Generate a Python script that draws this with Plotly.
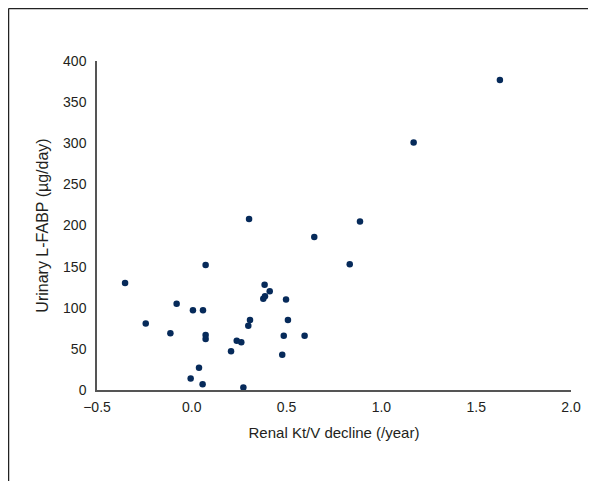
import plotly.graph_objects as go

kt_v_decline = [-0.352, 0.073, -0.243, -0.080, -0.113, 0.006, 0.059, 0.073, 0.073,
                0.038, -0.006, 0.057, 0.272, 0.207, 0.237, 0.261, 0.298, 0.307,
                0.377, 0.386, 0.384, 0.411, 0.497, 0.507, 0.485, 0.477, 0.595,
                0.833, 0.302, 0.646, 0.887, 1.170, 1.625]
l_fabp = [130, 152, 81, 105, 69, 97, 97, 67, 62,
          27, 14, 7, 3, 47, 60, 58, 78, 85,
          111, 114, 128, 120, 110, 85, 66, 43, 66,
          153, 208, 186, 205, 301, 377]

x_ticks = [-0.5, 0.0, 0.5, 1.0, 1.5, 2.0]
y_ticks = [0, 50, 100, 150, 200, 250, 300, 350, 400]

# page is offset by the 8px body margin
W, H = 588, 473
L, R, T, B = 89, 25, 53, 91
pw, ph = W - L - R, H - T - B

def px(x):
    return (x - L) / pw

def py(y):
    return (H - B - y) / ph

font = "Liberation Sans, Arial, sans-serif"

fig = go.Figure(go.Scatter(
    x=kt_v_decline, y=l_fabp, mode="markers",
    marker=dict(color="#062a5a", size=6.5),
    hoverinfo="x+y",
))

fig.update_layout(
    width=W, height=H,
    margin=dict(l=L, r=R, t=T, b=B),
    paper_bgcolor="white", plot_bgcolor="white",
    showlegend=False,
    font=dict(family=font, size=14, color="#231f20"),
    xaxis=dict(range=[-0.5, 2.0], tickvals=x_ticks, tickformat=".1f",
               showgrid=False, zeroline=False, showline=True,
               linecolor="#555555", linewidth=1.5, ticks="",
               ticklabelstandoff=3,
               title=dict(text="Renal Kt/V decline (/year)", standoff=14,
                          font=dict(size=15))),
    yaxis=dict(range=[0, 400], tickvals=y_ticks,
               showgrid=False, zeroline=False, showline=True,
               linecolor="#555555", linewidth=1.5, ticks="",
               ticklabelstandoff=6,
               title=dict(text="Urinary L-FABP (µg/day)", standoff=10,
                          font=dict(size=16))),
    shapes=[
        dict(type="line", xref="paper", yref="paper",
             x0=px(0.5), x1=px(W + 2), y0=py(0.5), y1=py(0.5),
             line=dict(color="#222222", width=1.5)),
        dict(type="line", xref="paper", yref="paper",
             x0=px(0.5), x1=px(0.5), y0=py(0.5), y1=py(H + 2),
             line=dict(color="#222222", width=1.5)),
    ],
)

fig.write_html("out.html")
